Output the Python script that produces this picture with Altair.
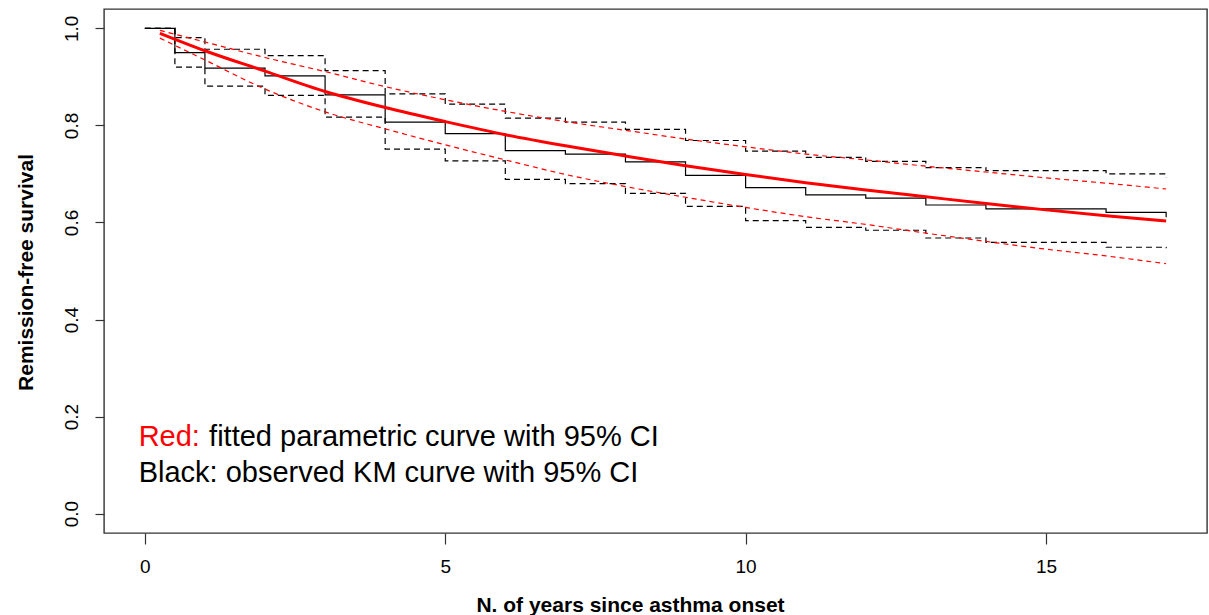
import altair as alt
import pandas as pd

# Kaplan-Meier step curve (observed) with 95% CI
km_time = [0, 0.5, 1, 2, 3, 4, 5, 6, 7, 8, 9, 10, 11, 12, 13, 14, 16, 17, 17]
km_surv = [1.0, 0.950, 0.918, 0.902, 0.863, 0.807, 0.783, 0.748, 0.741, 0.725,
           0.697, 0.672, 0.657, 0.650, 0.636, 0.628, 0.621, 0.621, 0.611]
km_upper = [1.0, 0.981, 0.957, 0.944, 0.913, 0.865, 0.844, 0.815, 0.807, 0.792,
            0.769, 0.747, 0.734, 0.726, 0.713, 0.707, 0.700, 0.700, 0.693]
km_lower = [1.0, 0.920, 0.881, 0.862, 0.817, 0.751, 0.727, 0.689, 0.680, 0.660,
            0.633, 0.604, 0.590, 0.584, 0.568, 0.559, 0.549, 0.549, 0.547]

# Fitted parametric curve with 95% CI
fit_time = [0.25, 1, 2, 3, 4, 5, 6, 7, 8, 9, 10, 11, 12, 13, 14, 15, 16, 17]
fit_surv = [0.990, 0.954, 0.912, 0.870, 0.837, 0.808, 0.781, 0.758, 0.737, 0.717,
            0.699, 0.682, 0.667, 0.653, 0.639, 0.626, 0.614, 0.603]
fit_upper = [0.996, 0.972, 0.940, 0.911, 0.880, 0.853, 0.829, 0.808, 0.790, 0.772,
             0.756, 0.741, 0.729, 0.716, 0.704, 0.692, 0.681, 0.669]
fit_lower = [0.980, 0.935, 0.875, 0.828, 0.793, 0.760, 0.729, 0.699, 0.674, 0.652,
             0.631, 0.612, 0.596, 0.578, 0.561, 0.545, 0.531, 0.515]

x_ticks = [0, 5, 10, 15]
y_ticks = [0.0, 0.2, 0.4, 0.6, 0.8, 1.0]

# annotation text (data coordinates)
note_text = ["Red:", "fitted parametric curve with 95% CI", "Black: observed KM curve with 95% CI"]
note_x = [-0.103, 1.069, -0.103]
note_y = [0.140, 0.140, 0.066]
note_color = ["#ff0000", "#000000", "#000000"]

FONT = "Liberation Sans"

km = pd.DataFrame({"i": list(range(len(km_time))), "t": km_time, "surv": km_surv,
                   "upper": km_upper, "lower": km_lower})
fit = pd.DataFrame({"t": fit_time, "surv": fit_surv, "upper": fit_upper, "lower": fit_lower})
notes = pd.DataFrame({"text": note_text, "x": note_x, "y": note_y, "c": note_color})

xscale = alt.Scale(domain=[-0.68, 17.68], nice=False, zero=False)
yscale = alt.Scale(domain=[-0.04, 1.04], nice=False, zero=False)

xaxis = alt.Axis(values=x_ticks, format="d", title="N. of years since asthma onset", grid=False,
                 domain=False, tickSize=11, tickColor="#333333", tickWidth=1.2,
                 labelFontSize=19, labelPadding=13, labelColor="#000000", labelFont=FONT,
                 titleFont=FONT, titleFontSize=21, titleFontWeight="bold",
                 titleColor="#000000", titleX=526, titleY=78,
                 titleBaseline="alphabetic", titleAlign="center")
yaxis = alt.Axis(values=y_ticks, format=".1f", title="Remission-free survival", grid=False,
                 domain=False, tickSize=9, tickColor="#333333", tickWidth=1.2,
                 labelFontSize=19, labelPadding=18, labelAngle=270, labelAlign="center",
                 labelBaseline="alphabetic", labelColor="#000000", labelFont=FONT,
                 titleFont=FONT, titleFontSize=21, titleFontWeight="bold",
                 titleColor="#000000", titleAngle=270, titleX=-72, titleY=263,
                 titleBaseline="alphabetic", titleAlign="center")

base_km = alt.Chart(km)
km_line = base_km.mark_line(interpolate="step-after", color="#000000", strokeWidth=1.2).encode(
    x=alt.X("t:Q", scale=xscale, axis=xaxis),
    y=alt.Y("surv:Q", scale=yscale, axis=yaxis),
    order=alt.Order("i:Q"),
)
km_up = base_km.mark_line(interpolate="step-after", color="#000000", strokeWidth=1.2,
                          strokeDash=[6, 4]).encode(
    x=alt.X("t:Q", scale=xscale, axis=xaxis), y=alt.Y("upper:Q", scale=yscale, axis=yaxis),
    order=alt.Order("i:Q"))
km_lo = base_km.mark_line(interpolate="step-after", color="#000000", strokeWidth=1.2,
                          strokeDash=[6, 4]).encode(
    x=alt.X("t:Q", scale=xscale, axis=xaxis), y=alt.Y("lower:Q", scale=yscale, axis=yaxis),
    order=alt.Order("i:Q"))

base_fit = alt.Chart(fit)
fit_line = base_fit.mark_line(interpolate="monotone", color="#ff0000", strokeWidth=3).encode(
    x=alt.X("t:Q", scale=xscale, axis=xaxis), y=alt.Y("surv:Q", scale=yscale, axis=yaxis))
fit_up = base_fit.mark_line(interpolate="monotone", color="#ff0000", strokeWidth=1.2,
                            strokeDash=[5, 4]).encode(
    x=alt.X("t:Q", scale=xscale, axis=xaxis), y=alt.Y("upper:Q", scale=yscale, axis=yaxis))
fit_lo = base_fit.mark_line(interpolate="monotone", color="#ff0000", strokeWidth=1.2,
                            strokeDash=[5, 4]).encode(
    x=alt.X("t:Q", scale=xscale, axis=xaxis), y=alt.Y("lower:Q", scale=yscale, axis=yaxis))

note_marks = alt.Chart(notes).mark_text(align="left", baseline="alphabetic", fontSize=29,
                                        font=FONT).encode(
    x=alt.X("x:Q", scale=xscale, axis=xaxis), y=alt.Y("y:Q", scale=yscale, axis=yaxis),
    text="text:N", color=alt.Color("c:N", scale=None))

chart = alt.layer(km_line, km_up, km_lo, fit_up, fit_lo, fit_line, note_marks).properties(
    width=1103, height=524,
    padding={"left": 104, "top": 9, "right": 2, "bottom": 82},
    autosize=alt.AutoSizeParams(type="none"),
    background="#ffffff",
).configure_view(stroke="#333333", strokeWidth=1.4)

chart.save("out.html", embed_options={"renderer": "svg", "actions": False})
